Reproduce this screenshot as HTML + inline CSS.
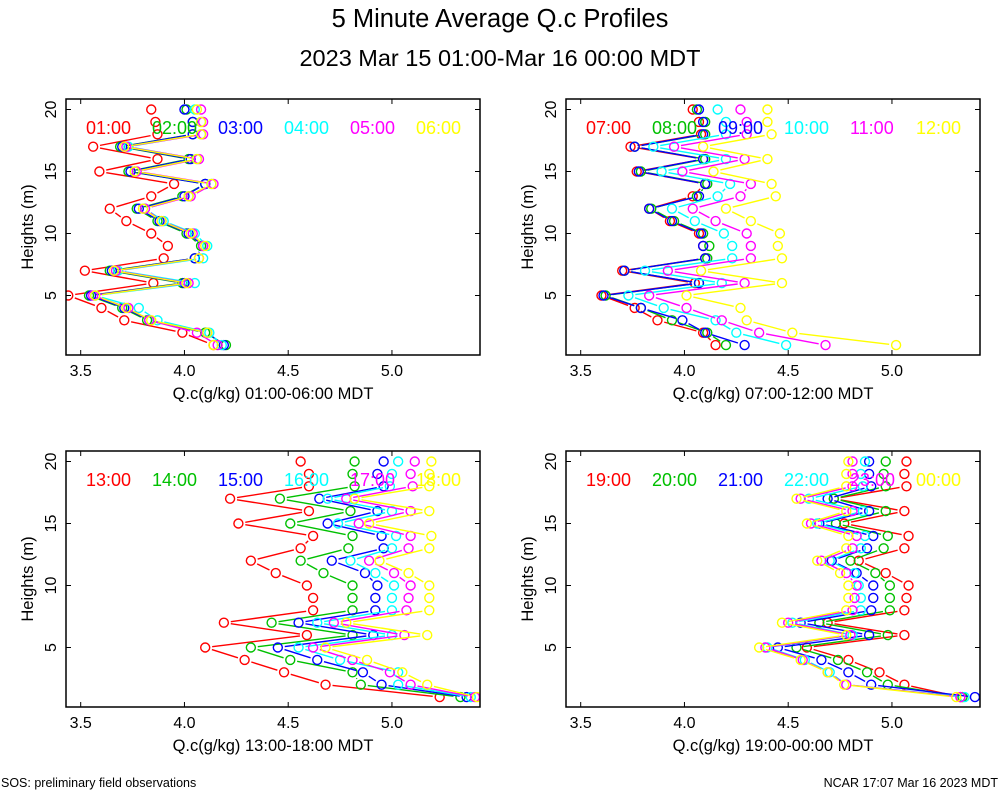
<!DOCTYPE html>
<html><head><meta charset="utf-8"><style>
body{margin:0;background:#fff;}
svg text{font-family:"Liberation Sans",sans-serif;}
</style></head><body>
<svg id="chart" width="1000" height="800" xmlns="http://www.w3.org/2000/svg">
<rect width="1000" height="800" fill="#fff"/>
<text x="500" y="27" text-anchor="middle" font-size="25.5">5 Minute Average Q.c Profiles</text>
<text x="500" y="66" text-anchor="middle" font-size="23.5">2023 Mar 15 01:00-Mar 16 00:00 MDT</text>
<text x="1" y="787" font-size="12.5">SOS: preliminary field observations</text>
<text x="998" y="787" text-anchor="end" font-size="12.5">NCAR 17:07 Mar 16 2023 MDT</text>
</svg>
<script>
const heights=[1,2,3,4,5,6,7,8,9,10,11,12,13,14,15,16,17,18,19,20];
const xTicks=[3.5,4.0,4.5,5.0];
const xTickLabels=["3.5","4.0","4.5","5.0"];
const yTicks=[5,10,15,20];
const colors=["#ff0000","#00c000","#0000ff","#00ffff","#ff00ff","#ffff00"];
const panelTimes=[["01:00","02:00","03:00","04:00","05:00","06:00"],["07:00","08:00","09:00","10:00","11:00","12:00"],["13:00","14:00","15:00","16:00","17:00","18:00"],["19:00","20:00","21:00","22:00","23:00","00:00"]];
const panelXLabels=["Q.c(g/kg) 01:00-06:00 MDT","Q.c(g/kg) 07:00-12:00 MDT","Q.c(g/kg) 13:00-18:00 MDT","Q.c(g/kg) 19:00-00:00 MDT"];
const p1red=[4.14,3.99,3.71,3.60,3.44,3.85,3.52,3.90,3.92,3.84,3.72,3.64,3.84,3.95,3.59,3.87,3.56,3.87,3.86,3.84];
const p1green=[4.20,4.10,3.82,3.70,3.54,3.99,3.64,4.05,4.08,4.01,3.87,3.77,3.99,4.10,3.73,4.02,3.69,4.04,4.04,4.01];
const p1blue=[4.19,4.11,3.83,3.71,3.55,4.00,3.65,4.05,4.09,4.02,3.88,3.78,4.00,4.10,3.74,4.03,3.70,4.04,4.04,4.00];
const p1cyan=[4.18,4.12,3.87,3.78,3.57,4.05,3.68,4.09,4.11,4.05,3.90,3.81,4.02,4.13,3.76,4.06,3.73,4.08,4.08,4.05];
const p1magenta=[4.16,4.06,3.83,3.73,3.56,4.02,3.67,4.07,4.09,4.04,3.89,3.81,4.03,4.14,3.77,4.07,3.72,4.09,4.09,4.08];
const p1yellow=[4.14,4.11,3.84,3.72,3.57,4.01,3.66,4.07,4.10,4.03,3.89,3.80,4.02,4.13,3.76,4.06,3.71,4.08,4.08,4.06];
const p2red=[4.15,4.09,3.87,3.76,3.60,4.05,3.70,4.10,4.09,4.07,3.93,3.83,4.04,4.10,3.77,4.09,3.74,4.08,4.07,4.04];
const p2green=[4.20,4.11,3.94,3.79,3.62,4.07,3.71,4.11,4.12,4.09,3.95,3.84,4.06,4.11,3.79,4.10,3.76,4.10,4.10,4.06];
const p2blue=[4.29,4.10,3.99,3.79,3.61,4.07,3.71,4.10,4.09,4.08,3.94,3.83,4.07,4.10,3.78,4.09,3.76,4.09,4.09,4.07];
const p2cyan=[4.49,4.25,4.15,3.90,3.73,4.18,3.81,4.23,4.23,4.19,4.05,3.94,4.16,4.22,3.89,4.20,3.85,4.20,4.20,4.16];
const p2magenta=[4.68,4.36,4.18,4.01,3.83,4.29,3.92,4.32,4.32,4.30,4.15,4.04,4.27,4.32,3.99,4.29,3.95,4.30,4.30,4.27];
const p2yellow=[5.02,4.52,4.30,4.27,4.01,4.47,4.08,4.47,4.45,4.46,4.32,4.20,4.44,4.42,4.14,4.40,4.09,4.42,4.40,4.40];
const p3red=[5.23,4.68,4.48,4.29,4.10,4.59,4.19,4.62,4.62,4.59,4.44,4.32,4.56,4.62,4.26,4.60,4.22,4.60,4.60,4.56];
const p3green=[5.33,4.85,4.81,4.51,4.32,4.81,4.42,4.81,4.81,4.81,4.67,4.56,4.79,4.81,4.51,4.80,4.46,4.82,4.81,4.82];
const p3blue=[5.36,4.95,4.86,4.64,4.45,4.91,4.55,4.92,4.92,4.93,4.87,4.71,4.96,4.95,4.69,4.93,4.65,4.96,4.93,4.96];
const p3cyan=[5.38,5.03,5.03,4.75,4.55,5.00,4.64,5.00,5.00,5.01,4.92,4.80,5.00,5.02,4.74,5.00,4.69,4.99,5.00,5.03];
const p3magenta=[5.40,5.09,4.99,4.81,4.62,5.06,4.72,5.07,5.08,5.09,5.01,4.89,5.08,5.09,4.84,5.09,4.78,5.10,5.09,5.11];
const p3yellow=[5.41,5.17,5.05,4.88,4.68,5.17,4.78,5.18,5.18,5.18,5.08,4.94,5.18,5.19,4.89,5.18,4.82,5.18,5.18,5.19];
const p4red=[5.33,5.06,4.94,4.79,4.59,5.06,4.69,5.06,5.07,5.08,4.97,4.84,5.06,5.08,4.77,5.06,4.72,5.07,5.06,5.07];
const p4green=[5.34,4.98,4.88,4.74,4.54,4.98,4.65,4.99,4.99,4.99,4.92,4.80,4.96,4.98,4.73,4.97,4.72,4.97,4.96,4.97];
const p4blue=[5.40,4.90,4.79,4.66,4.45,4.89,4.56,4.90,4.91,4.91,4.83,4.71,4.88,4.91,4.65,4.89,4.69,4.90,4.89,4.89];
const p4cyan=[5.35,4.78,4.70,4.58,4.40,4.81,4.52,4.85,4.85,4.84,4.82,4.70,4.85,4.87,4.64,4.86,4.60,4.86,4.85,4.87];
const p4magenta=[5.33,4.78,4.69,4.57,4.39,4.80,4.50,4.81,4.82,4.83,4.78,4.66,4.81,4.83,4.61,4.81,4.56,4.81,4.81,4.81];
const p4yellow=[5.31,4.77,4.69,4.56,4.36,4.78,4.47,4.78,4.79,4.79,4.75,4.64,4.78,4.79,4.59,4.78,4.54,4.78,4.78,4.79];
const panelSeries=[[p1red,p1green,p1blue,p1cyan,p1magenta,p1yellow],[p2red,p2green,p2blue,p2cyan,p2magenta,p2yellow],[p3red,p3green,p3blue,p3cyan,p3magenta,p3yellow],[p4red,p4green,p4blue,p4cyan,p4magenta,p4yellow]];

const NS="http://www.w3.org/2000/svg";
const svg=document.getElementById("chart");
function mk(tag,attrs,parent){const e=document.createElementNS(NS,tag);for(const k in attrs)e.setAttribute(k,attrs[k]);(parent||svg).appendChild(e);return e;}
const boxes=[[66,99],[566,99],[66,451],[566,451]];
const W=414,H=256;
boxes.forEach((b,pi)=>{
  const L=b[0],T=b[1];
  const xs=v=>L+14.7+(v-3.5)*207.5;
  const ys=h=>T+10.5+(20-h)*12.4;
  const g=mk("g",{});
  
  
  const clip=mk("clipPath",{id:"clip"+pi},g);
  mk("rect",{x:L,y:T,width:W,height:H},clip);
  const plot=mk("g",{"clip-path":"url(#clip"+pi+")"},g);
  panelSeries[pi].forEach((vals,si)=>{
    const sg=mk("g",{},plot);
    
    
    for(let i=0;i<vals.length-1;i++){
      if(heights[i+1]===20)continue;
      const x1=xs(vals[i]),y1=ys(heights[i]),x2=xs(vals[i+1]),y2=ys(heights[i+1]);
      const dx=x2-x1,dy=y2-y1,d=Math.hypot(dx,dy);
      if(d<14)continue;
      const ux=dx/d,uy=dy/d,g0=7;
      const ln=mk("line",{x1:x1+ux*g0,y1:y1+uy*g0,x2:x2-ux*g0,y2:y2-uy*g0,stroke:colors[si],"stroke-width":1.4},sg);
      
      
    }
    vals.forEach((v,i)=>{
      const c=mk("circle",{cx:xs(v),cy:ys(heights[i]),r:4.5,fill:"none",stroke:colors[si],"stroke-width":1.4},sg);
      
      
    });
  });
  panelTimes[pi].forEach((t,si)=>{
    const tx=mk("text",{x:L+20+si*66,y:T+35,"font-size":18,fill:colors[si]},g);
    tx.textContent=t;
    
    
  });
  const fr=mk("rect",{x:L,y:T,width:W,height:H,fill:"none",stroke:"#000","stroke-width":1.5},g);
  
  
  xTicks.forEach((v,i)=>{
    const x=xs(v);
    mk("line",{x1:x,y1:T+H,x2:x,y2:T+H-5,stroke:"#000"},g);
    mk("line",{x1:x,y1:T,x2:x,y2:T+5,stroke:"#000"},g);
    const tl=mk("text",{x:x,y:T+H+21,"text-anchor":"middle","font-size":16},g);
    tl.textContent=xTickLabels[i];
    
    
  });
  yTicks.forEach(h=>{
    const y=ys(h);
    mk("line",{x1:L,y1:y,x2:L+5,y2:y,stroke:"#000"},g);
    mk("line",{x1:L+W,y1:y,x2:L+W-5,y2:y,stroke:"#000"},g);
    const tl=mk("text",{x:0,y:0,"text-anchor":"middle","font-size":16,transform:"translate("+(L-10)+","+y+") rotate(-90)"},g);
    tl.textContent=String(h);
    
    
  });
  const xl=mk("text",{x:L+W/2,y:T+H+44,"text-anchor":"middle","font-size":16.5},g);
  xl.textContent=panelXLabels[pi];
  
  
  const yl=mk("text",{x:0,y:0,"text-anchor":"middle","font-size":16.5,transform:"translate("+(L-33)+","+(T+H/2)+") rotate(-90)"},g);
  yl.textContent="Heights (m)";
  
  
});
</script>
</body></html>
